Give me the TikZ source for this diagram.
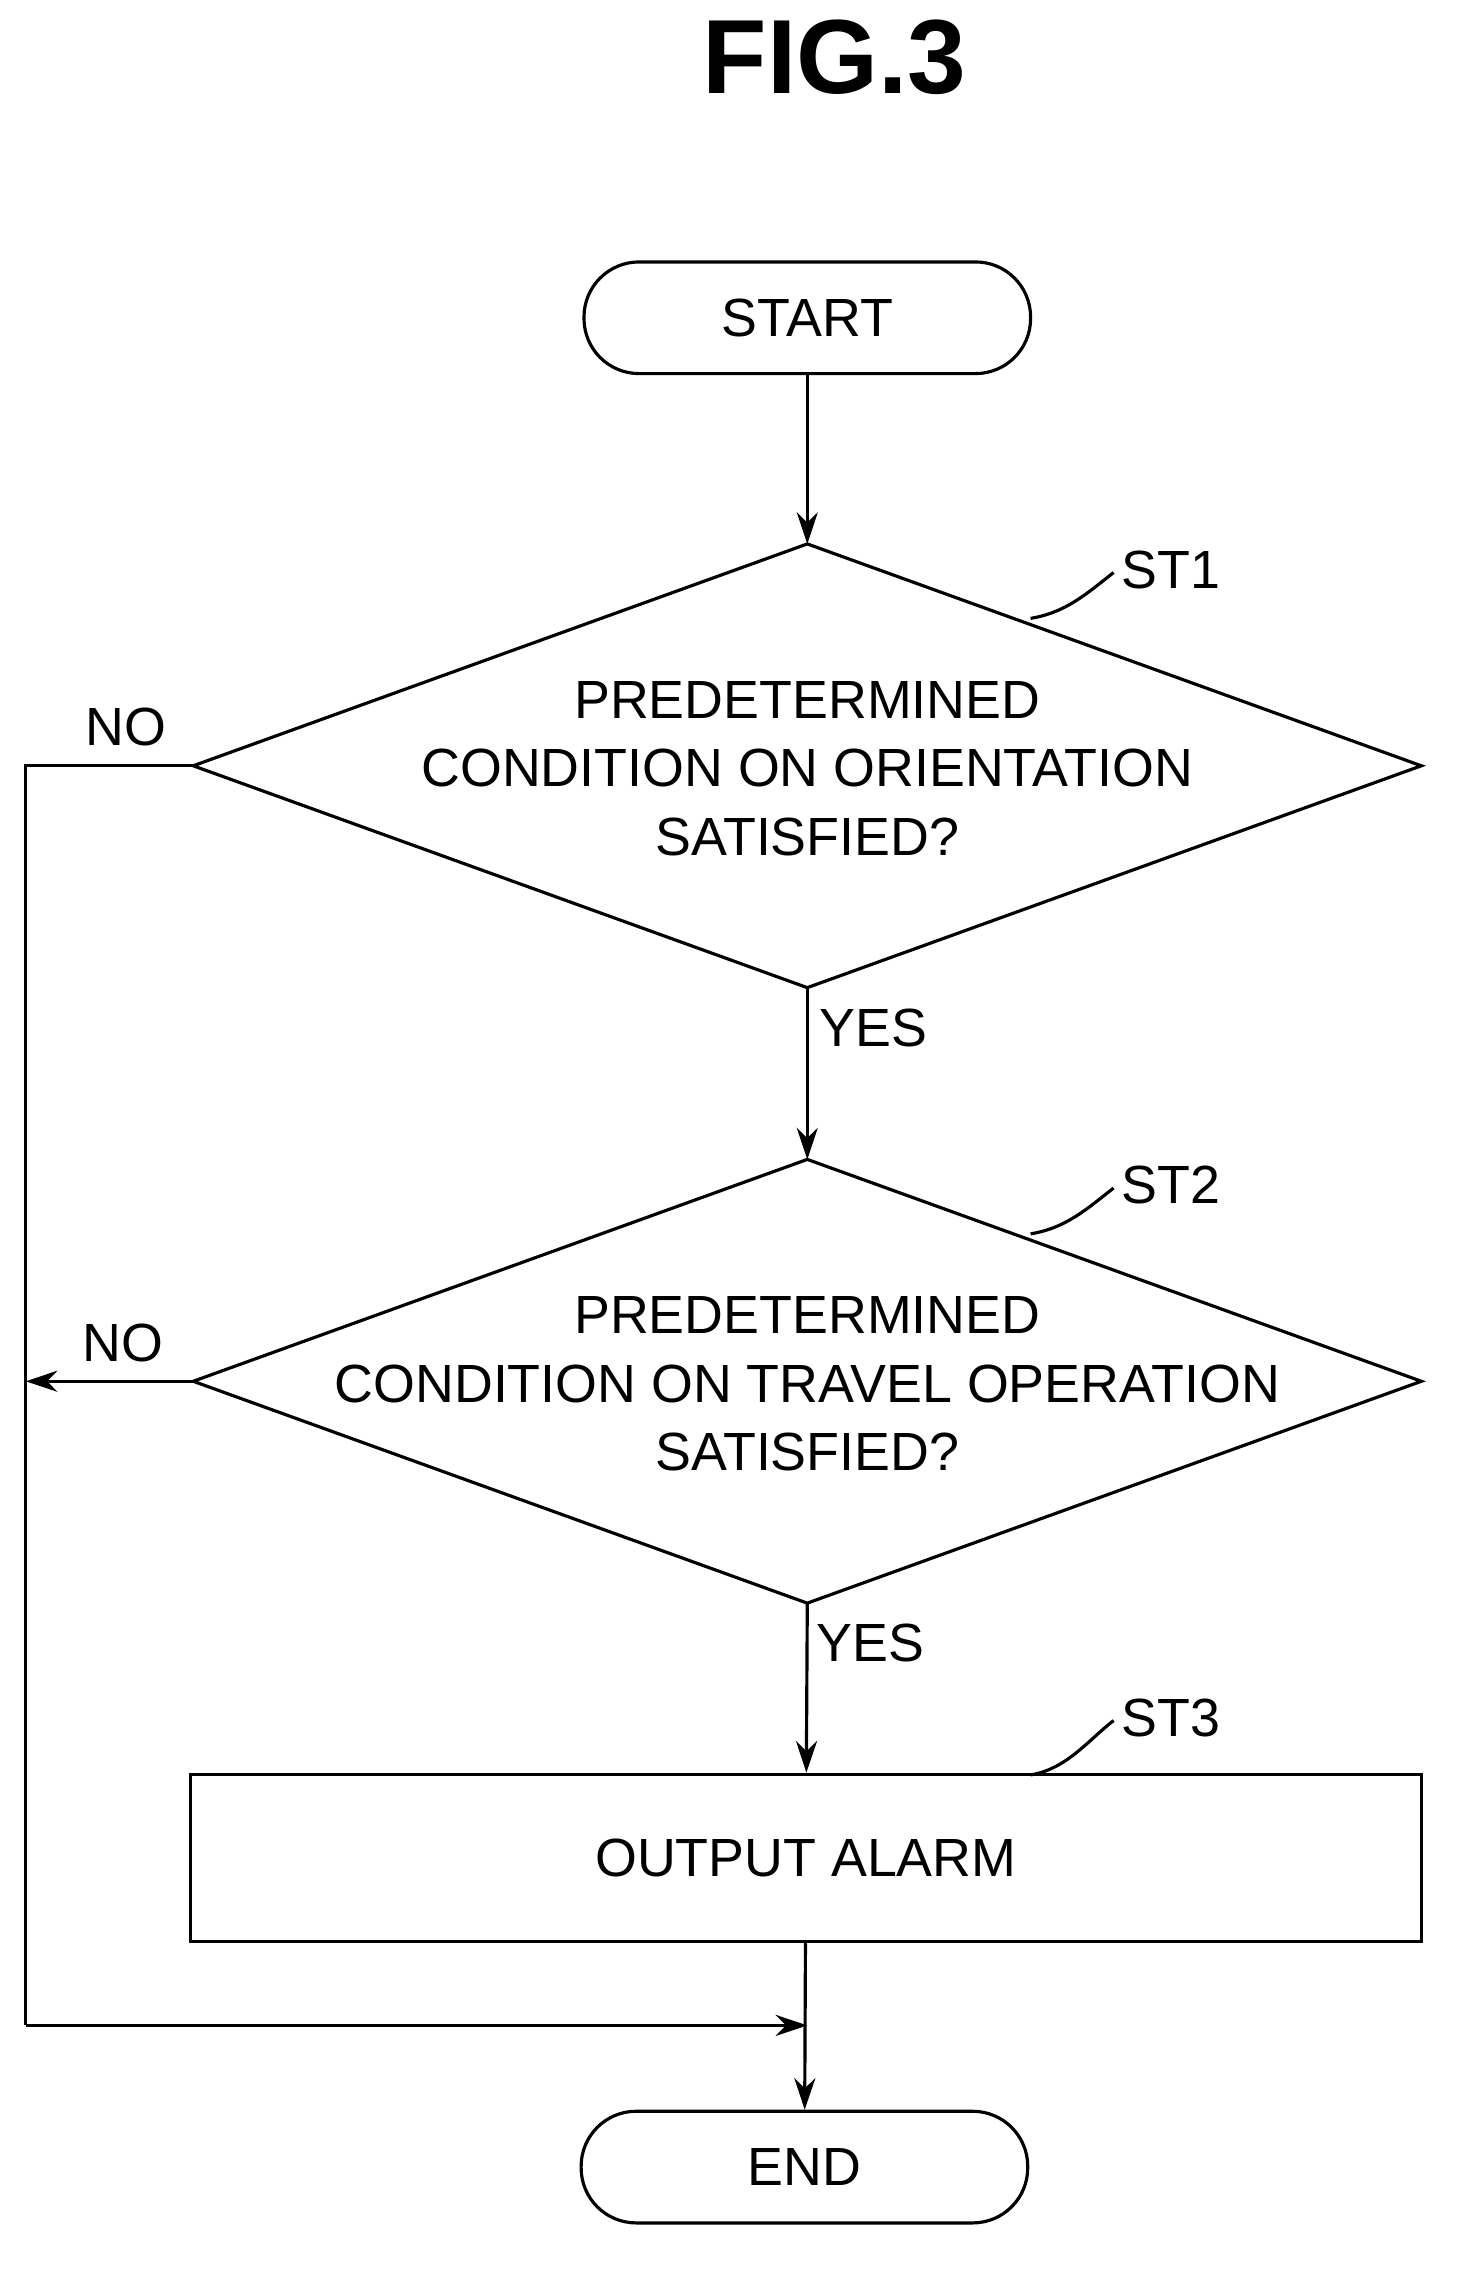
\documentclass[tikz,border=0pt]{standalone}
\usepackage{fontspec}
\setmainfont{Liberation Sans}
\usetikzlibrary{arrows.meta}
\tikzset{
  flow/.style={line width=0.9pt},
  arr/.style={flow,-{Stealth[length=9pt,width=6pt]}},
  term/.style={flow,draw,rounded corners=0.55cm,minimum width=312*0.014315cm,minimum height=78*0.014315cm,font=\fontsize{15.3}{18}\selectfont},
  txt/.style={align=center,font=\fontsize{15.3}{19.5}\selectfont},
  proc/.style={flow,draw,minimum width=860*0.014315cm,minimum height=117*0.014315cm,font=\fontsize{15.3}{18}\selectfont},
  lbl/.style={font=\fontsize{15.3}{18}\selectfont},
}
\begin{document}
\begin{tikzpicture}[x=0.014315cm,y=-0.014315cm]
  \useasboundingbox (0,0) rectangle (1022,1588);
  \node[font=\bfseries\fontsize{30}{34}\selectfont] (title) at (583,40) {FIG.3};

  \node[term] (start) at (564,222) {START};
  % decision ST1
  \coordinate (st1n) at (564,380); \coordinate (st1s) at (564,690);
  \coordinate (st1w) at (135,535); \coordinate (st1e) at (993,535);
  \draw[flow] (st1n) -- (st1e) -- (st1s) -- (st1w) -- cycle;
  \node[txt] (st1) at (564,537) {PREDETERMINED\\CONDITION ON ORIENTATION\\SATISFIED?};
  % decision ST2
  \coordinate (st2n) at (564,810); \coordinate (st2s) at (564,1120);
  \coordinate (st2w) at (135,965); \coordinate (st2e) at (993,965);
  \draw[flow] (st2n) -- (st2e) -- (st2s) -- (st2w) -- cycle;
  \node[txt] (st2) at (564,967) {PREDETERMINED\\CONDITION ON TRAVEL OPERATION\\SATISFIED?};
  \node[proc] (st3) at (563,1298) {OUTPUT ALARM};
  \node[term] (end) at (562,1514) {END};

  % step tags
  \coordinate (t1) at (720,432);
  \coordinate (t2) at (720,862);
  \coordinate (t3) at (720,1240);
  \draw[flow] (t1) .. controls +(25,-4) and +(-18,14) .. (778,400);
  \node[lbl] (l1) at (818,398) {ST1};
  \draw[flow] (t2) .. controls +(25,-4) and +(-18,14) .. (778,830);
  \node[lbl] (l2) at (818,828) {ST2};
  \draw[flow] (t3) .. controls +(25,-4) and +(-18,14) .. (778,1202);
  \node[lbl] (l3) at (818,1200) {ST3};

  % connectors
  \coordinate (c1) at (18,535);
  \coordinate (c2) at (18,965);
  \coordinate (c3) at (18,1415);
  \coordinate (j) at (564,1415);
  \draw[arr] (start) -- (st1n);
  \draw[arr] (st1s) -- (st2n);
  \draw[arr] (st2s) -- (st3);
  \node[lbl] (y1) at (610,718) {YES};
  \node[lbl] (y2) at (608,1148) {YES};
  \draw[flow] (st1w) -- (c1) -- (c3);
  \draw[arr] (c3) -- (j);
  \draw[arr] (st2w) -- (c2);
  \draw[arr] (st3) -- (end);
  \node[lbl] (n1) at (88,508) {NO};
  \node[lbl] (n2) at (86,938) {NO};
\end{tikzpicture}
\end{document}
